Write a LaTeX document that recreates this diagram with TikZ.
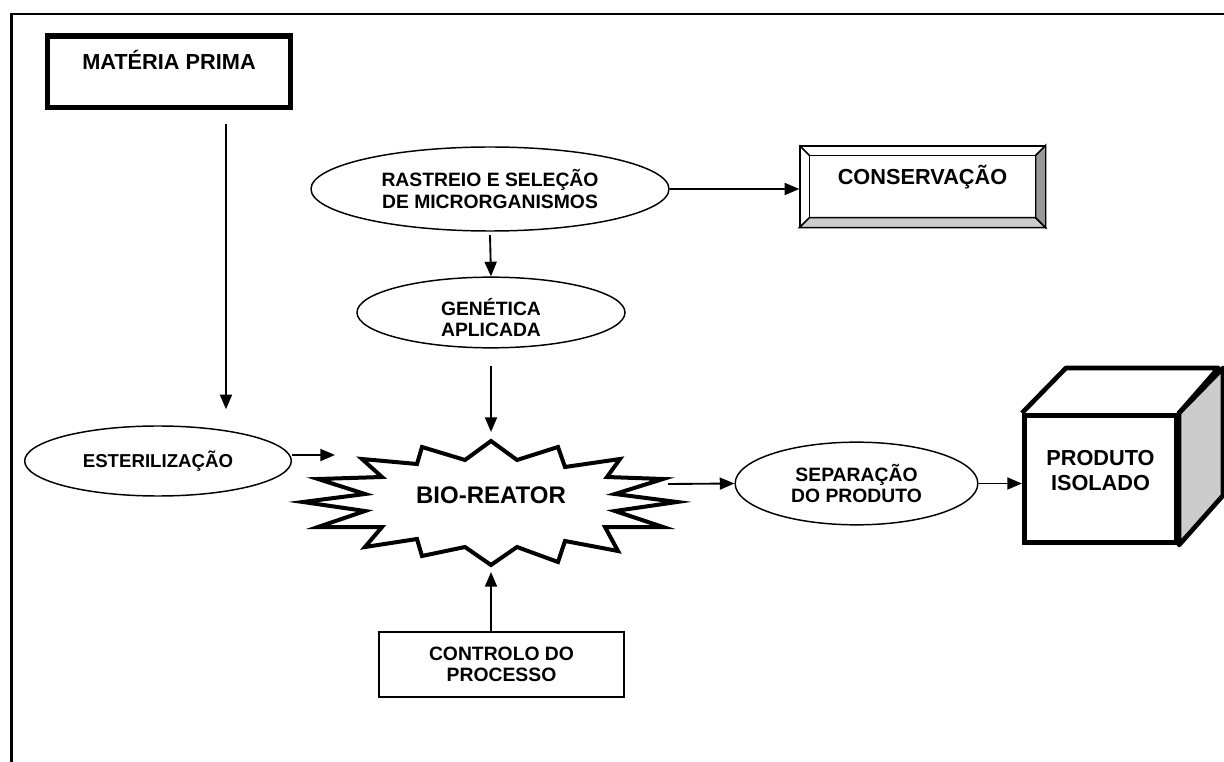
\documentclass[tikz,border=0pt]{standalone}
\usepackage{fontspec}
\setmainfont{Liberation Sans}
\usetikzlibrary{arrows.meta,shapes.geometric}

\begin{document}
\begin{tikzpicture}[x=0.75pt,y=-0.75pt,
  font=\bfseries\fontsize{14.5}{15.8}\selectfont,
  oval/.style={ellipse,draw,line width=1.1pt,inner sep=0pt,align=center},
  arr/.style={line width=1.4pt,-{Triangle[length=11pt,width=9pt]}},
  bigtxt/.style={font=\bfseries\fontsize{16.3}{19.5}\selectfont}]
\useasboundingbox (0,0) rectangle (1224,762);
\draw[line width=1.8pt] (11.5,762)--(11.5,14)--(1224,14);

\node[draw,line width=4pt,bigtxt,inner sep=0pt,minimum width=182pt,minimum height=53.5pt,text height=12pt,text depth=14.6pt] (materia) at (169,71.7) {MATÉRIA PRIMA};
\node[oval,minimum width=200pt,minimum height=52.5pt,font=\bfseries\fontsize{14}{15.8}\selectfont] (ester) at (158,461) {ESTERILIZAÇÃO};
\node[oval,minimum width=268.5pt,minimum height=63pt] (rast) at (490,189) {RASTREIO E SELEÇÃO\\DE MICRORGANISMOS};
\node[oval,minimum width=201pt,minimum height=53pt,text height=36.6pt,text depth=0pt] (gen) at (491,312.5) {GENÉTICA\\APLICADA};
\node[oval,minimum width=182pt,minimum height=62pt] (sep) at (856.5,483.5) {SEPARAÇÃO\\DO PRODUTO};
\node[draw,line width=1.1pt,inner sep=0pt,minimum width=183.75pt,minimum height=48.75pt,align=center] (ctrl) at (501.5,664.5) {CONTROLO DO\\PROCESSO};

% conservacao, bevelled box
\node[draw,line width=1.1pt,bigtxt,inner sep=0pt,minimum width=183.75pt,minimum height=60.75pt,text height=12pt,text depth=14.25pt] (cons) at (922.5,186.5) {CONSERVAÇÃO};
\filldraw[line width=1.1pt,fill=black!20] (cons.south west)--(cons.south east)--([shift={(-7.5pt,7.5pt)}]cons.south east)--([shift={(7.5pt,7.5pt)}]cons.south west)--cycle;
\filldraw[line width=1.1pt,fill=black!40] (cons.south east)--(cons.north east)--([shift={(-7.5pt,-7.5pt)}]cons.north east)--([shift={(-7.5pt,7.5pt)}]cons.south east)--cycle;
\draw[line width=1.1pt] ([shift={(7.5pt,-7.5pt)}]cons.north west) rectangle ([shift={(-7.5pt,7.5pt)}]cons.south east);
\draw[line width=1.1pt] (cons.north west)--++(7.5pt,-7.5pt);

% produto isolado, cube
\node[draw,line width=3.5pt,bigtxt,inner sep=0pt,minimum width=114.3pt,minimum height=95.5pt,align=center,text height=32pt,text depth=14pt] (prod) at (1100.5,479) {PRODUTO\\ISOLADO};
\draw[line width=3.5pt,line join=round] (prod.north west)--++(44,-45)--++(152.4,0)--(prod.north east);
\filldraw[line width=3.5pt,line join=round,fill=black!20] (prod.north east)--++(44,-45)--++(0,127.4)--(prod.south east)--cycle;

% bio-reator
\node[font=\bfseries\fontsize{18}{20}\selectfont] (bio) at (491,495) {BIO-REATOR};
\draw[line width=3pt,line join=miter,shift={(bio.center)}] (0,-54)--(26,-35)--(67,-48)--(74,-28)--(129,-36)--(116,-18)--(172,-16)--(124,-1)--(186,7)--(124,16)--(172,32)--(114,32)--(127,56)--(74,46)--(67,67)--(26,52)--(0,70)--(-26,52)--(-69,61)--(-74,44)--(-126,52)--(-109,32)--(-173,32)--(-126,16)--(-188,7)--(-126,-1)--(-173,-16)--(-109,-18)--(-129,-36)--(-74,-31)--(-69,-48)--(-26,-35)--cycle;

\coordinate (mpS) at (226,124);
\coordinate (bioW) at (335,455);
\coordinate (bioN) at (491,432);
\coordinate (bioS) at (491,572);
\coordinate (bioE) at (668,484);

\draw[arr,shorten >=12pt] (mpS)--(mpS |- ester.north);
\draw[arr] ([yshift=4.5pt]ester.east)--(bioW);
\draw[arr] ([yshift=-2.5pt]rast.south)--(gen.north);
\draw[arr] (rast.east)--(rast.east -| cons.west);
\draw[arr] ([yshift=-12.75pt]gen.south)--(bioN);
\draw[arr] (ctrl.north -| bioS)--(bioS);
\draw[arr] (bioE)--(sep.west);
\draw[arr] (sep.east)--(sep.east -| prod.west);
\end{tikzpicture}
\end{document}
